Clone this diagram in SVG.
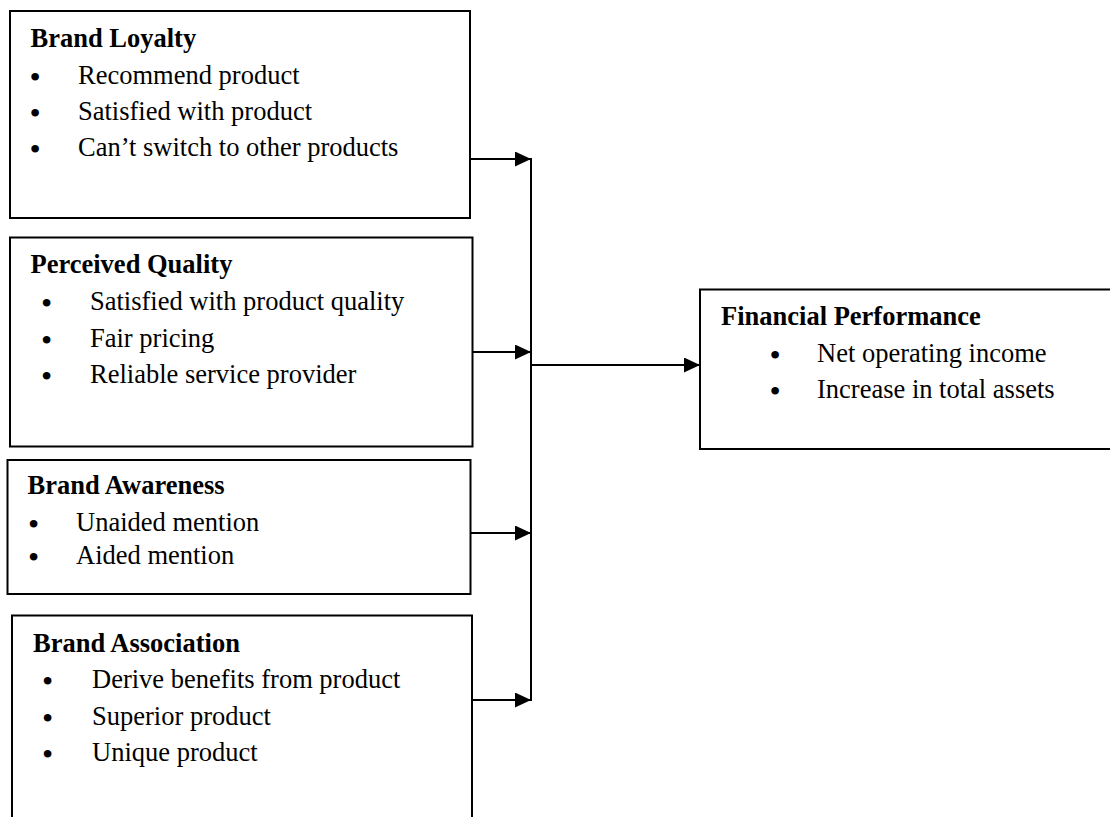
<svg xmlns="http://www.w3.org/2000/svg" width="1110" height="817" viewBox="0 0 1110 817">
  <defs>
    <style>
      .box { fill: #ffffff; stroke: #000000; stroke-width: 2; }
      .t { font-family: "Liberation Serif", "Times New Roman", serif; font-size: 26.5px; fill: #000000; }
      .h { font-weight: bold; }
      .b { text-anchor: middle; font-size: 32px; }
      .conn { fill: none; stroke: #000000; stroke-width: 2; }
    </style>
    <marker id="arrow" markerUnits="userSpaceOnUse" markerWidth="16" markerHeight="15" refX="16" refY="7.5" orient="auto">
      <path d="M0,0 L16,7.5 L0,15 Z" fill="#000000"/>
    </marker>
  </defs>
  <rect x="0" y="0" width="1110" height="817" fill="#ffffff"/>

  <g id="brand-loyalty">
    <rect class="box" x="10" y="11" width="460" height="207"/>
    <text class="t h" x="30.5" y="47">Brand Loyalty</text>
    <text class="t b" x="35" y="88">•</text>
    <text class="t" x="78" y="84">Recommend product</text>
    <text class="t b" x="35" y="124">•</text>
    <text class="t" x="78" y="120">Satisfied with product</text>
    <text class="t b" x="35" y="160">•</text>
    <text class="t" x="78" y="156">Can’t switch to other products</text>
  </g>

  <g id="perceived-quality">
    <rect class="box" x="10" y="237.5" width="462.5" height="209"/>
    <text class="t h" x="30.5" y="273">Perceived Quality</text>
    <text class="t b" x="46.5" y="314">•</text>
    <text class="t" x="90" y="310">Satisfied with product quality</text>
    <text class="t b" x="46.5" y="351">•</text>
    <text class="t" x="90" y="347">Fair pricing</text>
    <text class="t b" x="46.5" y="387">•</text>
    <text class="t" x="90" y="383">Reliable service provider</text>
  </g>

  <g id="brand-awareness">
    <rect class="box" x="7.5" y="460" width="463" height="134"/>
    <text class="t h" x="27.5" y="494">Brand Awareness</text>
    <text class="t b" x="33.5" y="535">•</text>
    <text class="t" x="76" y="531">Unaided mention</text>
    <text class="t b" x="33.5" y="568">•</text>
    <text class="t" x="76" y="564">Aided mention</text>
  </g>

  <g id="brand-association">
    <path class="box" d="M12,830 L12,615.5 L472,615.5 L472,830"/>
    <text class="t h" x="33" y="652">Brand Association</text>
    <text class="t b" x="47.5" y="692">•</text>
    <text class="t" x="92" y="688">Derive benefits from product</text>
    <text class="t b" x="47.5" y="729">•</text>
    <text class="t" x="92" y="725">Superior product</text>
    <text class="t b" x="47.5" y="765">•</text>
    <text class="t" x="92" y="761">Unique product</text>
  </g>

  <g id="financial-performance">
    <path class="box" d="M1120,289.5 L700,289.5 L700,449 L1120,449"/>
    <text class="t h" x="721" y="325">Financial Performance</text>
    <text class="t b" x="775" y="366">•</text>
    <text class="t" x="817" y="362">Net operating income</text>
    <text class="t b" x="775" y="402">•</text>
    <text class="t" x="817" y="398">Increase in total assets</text>
  </g>

  <g id="connectors">
    <line class="conn" x1="470" y1="159" x2="531" y2="159" marker-end="url(#arrow)"/>
    <line class="conn" x1="472.5" y1="352" x2="531" y2="352" marker-end="url(#arrow)"/>
    <line class="conn" x1="470.5" y1="533" x2="531" y2="533" marker-end="url(#arrow)"/>
    <line class="conn" x1="472" y1="700" x2="531" y2="700" marker-end="url(#arrow)"/>
    <line class="conn" x1="531" y1="158" x2="531" y2="701"/>
    <line class="conn" x1="531" y1="365" x2="700" y2="365" marker-end="url(#arrow)"/>
  </g>
</svg>
